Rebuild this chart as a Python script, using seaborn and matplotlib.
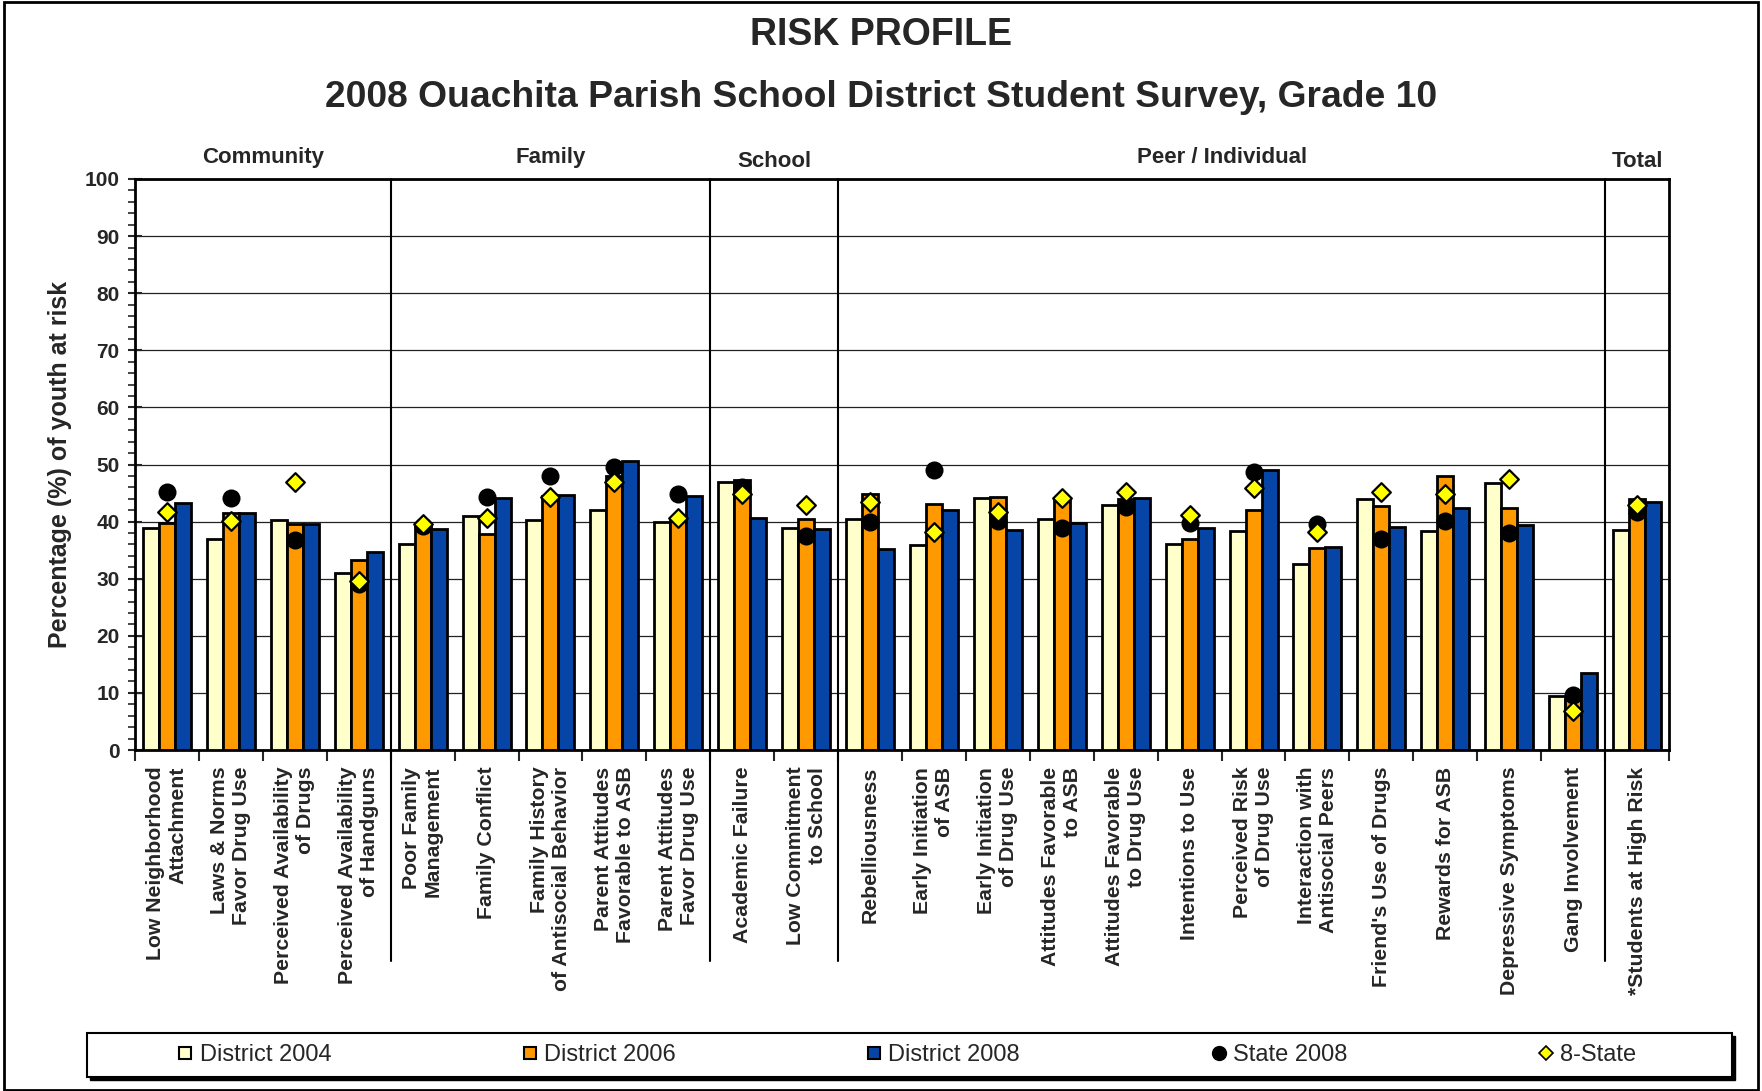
import numpy as np
import pandas as pd
import matplotlib
matplotlib.use("Agg")
import matplotlib.pyplot as plt
import matplotlib.transforms as mtransforms
from matplotlib.lines import Line2D
from matplotlib.patches import Rectangle
import seaborn as sns

# ---------------- data ----------------
categories = [
    "Low Neighborhood\nAttachment", "Laws & Norms\nFavor Drug Use",
    "Perceived Availability\nof Drugs", "Perceived Availability\nof Handguns",
    "Poor Family\nManagement", "Family Conflict",
    "Family History\nof Antisocial Behavior", "Parent Attitudes\nFavorable to ASB",
    "Parent Attitudes\nFavor Drug Use", "Academic Failure",
    "Low Commitment\nto School", "Rebelliousness",
    "Early Initiation\nof ASB", "Early Initiation\nof Drug Use",
    "Attitudes Favorable\nto ASB", "Attitudes Favorable\nto Drug Use",
    "Intentions to Use", "Perceived Risk\nof Drug Use",
    "Interaction with\nAntisocial Peers", "Friend's Use of Drugs",
    "Rewards for ASB", "Depressive Symptoms", "Gang Involvement",
    "*Students at High Risk",
]
groups = ["Community", "Family", "School", "Peer / Individual", "Total"]
group_sizes = [4, 5, 2, 12, 1]

district_2004 = [38.8, 36.9, 40.2, 31.0, 36.0, 40.9, 40.3, 42.0, 39.9, 46.9, 38.9, 40.5,
                 35.9, 44.1, 40.4, 42.9, 36.1, 38.4, 32.6, 44.0, 38.4, 46.8, 9.4, 38.5]
district_2006 = [39.8, 41.5, 39.6, 33.2, 39.5, 37.8, 44.5, 48.0, 40.3, 47.3, 40.5, 44.8,
                 43.0, 44.3, 44.2, 44.0, 36.9, 42.0, 35.4, 42.7, 48.0, 42.4, 8.8, 44.0]
district_2008 = [43.2, 41.5, 39.5, 34.6, 38.7, 44.1, 44.6, 50.6, 44.5, 40.6, 38.7, 35.2,
                 42.0, 38.5, 39.7, 44.2, 38.8, 49.0, 35.6, 39.1, 42.4, 39.4, 13.4, 43.4]
state_2008 = [45.1, 44.1, 36.7, 29.1, 39.2, 44.3, 47.9, 49.5, 44.8, 46.1, 37.5, 40.0,
              49.0, 40.1, 38.9, 42.6, 39.7, 48.6, 39.5, 37.0, 40.1, 38.0, 9.6, 41.7]
eight_state = [41.6, 40.1, 46.9, 29.6, 39.6, 40.7, 44.3, 47.0, 40.7, 44.9, 42.9, 43.4,
               38.1, 41.6, 44.1, 45.1, 41.2, 45.9, 38.1, 45.2, 44.8, 47.4, 6.9, 42.9]

series_names = ["District 2004", "District 2006", "District 2008"]
bar_colors = ["#FFFFCC", "#FF9900", "#0645A6"]

df = pd.DataFrame({
    "category": categories * 3,
    "series": np.repeat(series_names, len(categories)),
    "value": district_2004 + district_2006 + district_2008,
})

# ---------------- style ----------------
sns.set_style("ticks")
plt.rcParams["font.family"] = ["Liberation Sans", "DejaVu Sans"]

W, H = 1762, 1091
fig = plt.figure(figsize=(W / 100, H / 100), dpi=100)
fig.patch.set_facecolor("white")

ax_l, ax_r, ax_t, ax_b = 135, 1669, 179, 750
ax = fig.add_axes([ax_l / W, 1 - ax_b / H, (ax_r - ax_l) / W, (ax_b - ax_t) / H])

sns.barplot(data=df, x="category", y="value", hue="series", order=categories,
            hue_order=series_names, palette=bar_colors, width=0.75, saturation=1,
            edgecolor="black", linewidth=2.0, legend=False, ax=ax, zorder=3)

sns.stripplot(x=categories, y=state_2008, order=categories, jitter=False,
              color="black", marker="o", size=13, linewidth=0, ax=ax, zorder=4)
sns.stripplot(x=categories, y=eight_state, order=categories, jitter=False,
              color="#FFFF00", marker="D", size=9.5, edgecolor="black",
              linewidth=1.6, ax=ax, zorder=5)

n = len(categories)
ax.set_xlim(-0.5, n - 0.5)
ax.set_ylim(0, 100)
ax.set_xlabel("")
ax.set_ylabel("Percentage (%) of youth at risk", fontsize=18, fontweight="bold")
ax.yaxis.set_label_coords((72 - ax_l) / (ax_r - ax_l), 0.5)

ax.set_yticks(np.arange(0, 101, 10))
ax.set_yticks(np.arange(0, 101, 2), minor=True)
ax.set_yticklabels([str(v) for v in range(0, 101, 10)], fontsize=15, fontweight="bold")
ax.tick_params(axis="y", which="major", direction="inout", length=10, width=1.5, pad=6)
ax.tick_params(axis="y", which="minor", direction="out", length=5, width=1.2)

ax.set_xticks(np.arange(n))
ax.set_xticklabels(categories, rotation=90, fontsize=15.3, fontweight="bold",
                   ha="center", va="top")
for t in ax.get_xticklabels():
    t.set_multialignment("right")
ax.set_xticks(np.arange(-0.5, n, 1), minor=True)
ax.tick_params(axis="x", which="major", length=0, pad=12)
ax.tick_params(axis="x", which="minor", direction="out", length=8, width=1.5)

ax.yaxis.grid(True, which="major", color="#222222", linewidth=0.9)
ax.xaxis.grid(False)
ax.set_axisbelow(True)
for s in ax.spines.values():
    s.set_visible(True)
    s.set_color("black")
    s.set_linewidth(2)

# group separators and labels
trans = mtransforms.blended_transform_factory(ax.transData, ax.transAxes)
bounds = np.cumsum(group_sizes)
for b in bounds[:-1]:
    ax.plot([b - 0.5, b - 0.5], [-0.37, 1.0], transform=trans, color="black",
            lw=1.5, clip_on=False, zorder=6)
starts = np.concatenate([[0], bounds[:-1]])
label_y = {"School": 1.031, "Total": 1.031}
for g, st, sz in zip(groups, starts, group_sizes):
    ax.text(st + (sz - 1) / 2, label_y.get(g, 1.037), g, transform=trans,
            ha="center", va="center", fontsize=16, fontweight="bold")

# titles
fig.text(0.5, 1 - 35 / H, "RISK PROFILE", ha="center", va="center",
         fontsize=27, fontweight="bold")
fig.text(0.5, 1 - 98 / H, "2008 Ouachita Parish School District Student Survey, Grade 10",
         ha="center", va="center", fontsize=26.8, fontweight="bold")

# legend frame (with shadow) and legend
lx0, lx1, ly0, ly1 = 87, 1732, 1033, 1077
fig.patches.append(Rectangle(((lx0 + 3) / W, 1 - (ly1 + 3) / H), (lx1 - lx0) / W,
                             (ly1 - ly0) / H, transform=fig.transFigure,
                             facecolor="black", edgecolor="black", zorder=1))
fig.patches.append(Rectangle((lx0 / W, 1 - ly1 / H), (lx1 - lx0) / W, (ly1 - ly0) / H,
                             transform=fig.transFigure, facecolor="white",
                             edgecolor="black", lw=1.5, zorder=2))
handles = [
    Line2D([], [], ls="none", marker="s", ms=8, mfc=bar_colors[0], mec="black", mew=1.5),
    Line2D([], [], ls="none", marker="s", ms=8, mfc=bar_colors[1], mec="black", mew=1.5),
    Line2D([], [], ls="none", marker="s", ms=8, mfc=bar_colors[2], mec="black", mew=1.5),
    Line2D([], [], ls="none", marker="o", ms=10, mfc="black", mec="black"),
    Line2D([], [], ls="none", marker="D", ms=7, mfc="#FFFF00", mec="black", mew=1.2),
]
leg_labels = series_names + ["State 2008", "8-State"]
fx0, fx1 = 176, 1636
leg = fig.legend(handles, leg_labels, loc="center",
                 bbox_to_anchor=(fx0 / W, 1 - ly1 / H, (fx1 - fx0) / W, (ly1 - ly0) / H),
                 mode="expand", ncol=5, frameon=False, fontsize=17,
                 handlelength=0.8, handletextpad=0.2, borderpad=0, borderaxespad=0)
leg.set_zorder(3)

# outer figure border
fig.patches.append(Rectangle((0.002, 0.001), 0.996, 0.997, transform=fig.transFigure,
                             fill=False, edgecolor="black", lw=2, zorder=0))

fig.savefig("out.png", dpi=100)
